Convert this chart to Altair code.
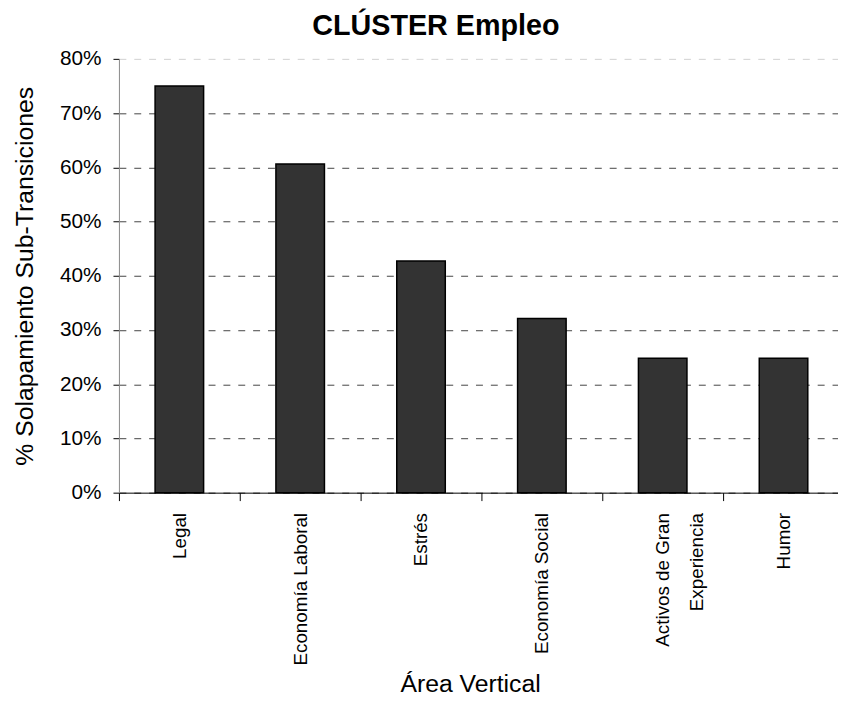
import altair as alt
import pandas as pd

categories = ["Legal", "Economía Laboral", "Estrés", "Economía Social",
              "Activos de Gran|Experiencia", "Humor"]
values = [0.750, 0.606, 0.427, 0.321, 0.248, 0.248]

df = pd.DataFrame({"cat": categories, "val": values})

font = "Liberation Sans"

bars = alt.Chart(df).mark_bar(
    color="#333333", stroke="#000000", strokeWidth=1.5, size=49
).encode(
    x=alt.X("cat:N", sort=categories,
            scale=alt.Scale(paddingInner=0, paddingOuter=0, range=[0, 732]),
            axis=alt.Axis(title="Área Vertical", labelAngle=-90,
                          labelExpr="datum.value ? split(datum.value, '|') : ''",
                          labelAlign="right", labelBaseline="middle",
                          labelFontSize=19, labelFont=font, labelColor="#000",
                          labelPadding=12, labelLineHeight=34,
                          tickBand="extent", tickSize=8, tickColor="#000",
                          domainColor="#000", titleFontSize=25, titleFont=font,
                          titleFontWeight="normal", titleColor="#000",
                          titleX=354.5, titleY=201, titleAlign="center",
                          titleBaseline="alphabetic", grid=False)),
    y=alt.Y("val:Q", scale=alt.Scale(domain=[0, 0.8], nice=False),
            axis=alt.Axis(title="% Solapamiento Sub-Transiciones", format=".0%",
                          values=[0, 0.1, 0.2, 0.3, 0.4, 0.5, 0.6, 0.7, 0.8],
                          labelFontSize=21, labelFont=font, labelColor="#000",
                          labelPadding=12,
                          tickSize=6, tickColor="#000", domainColor="#888",
                          grid=True, gridDash=[7, 8],
                          gridColor=alt.condition("datum.value >= 0.79",
                                                  alt.value("#d0d0d0"),
                                                  alt.value("#444444")),
                          gridWidth=1, titleFontSize=25, titleFont=font,
                          titleFontWeight="normal", titleColor="#000",
                          titleX=-87, titleBaseline="alphabetic")),
)

chart = bars.properties(
    width=726, height=438,
    title=alt.TitleParams("CLÚSTER Empleo", fontSize=29, font=font,
                          fontWeight="bold", color="#000", dx=-43, offset=7),
    autosize=alt.AutoSizeParams(type="none"),
    padding={"left": 112, "top": 48, "right": 0, "bottom": 207},
).configure_view(stroke=None)

chart.save("out.html", embed_options={"renderer": "svg", "actions": False})
